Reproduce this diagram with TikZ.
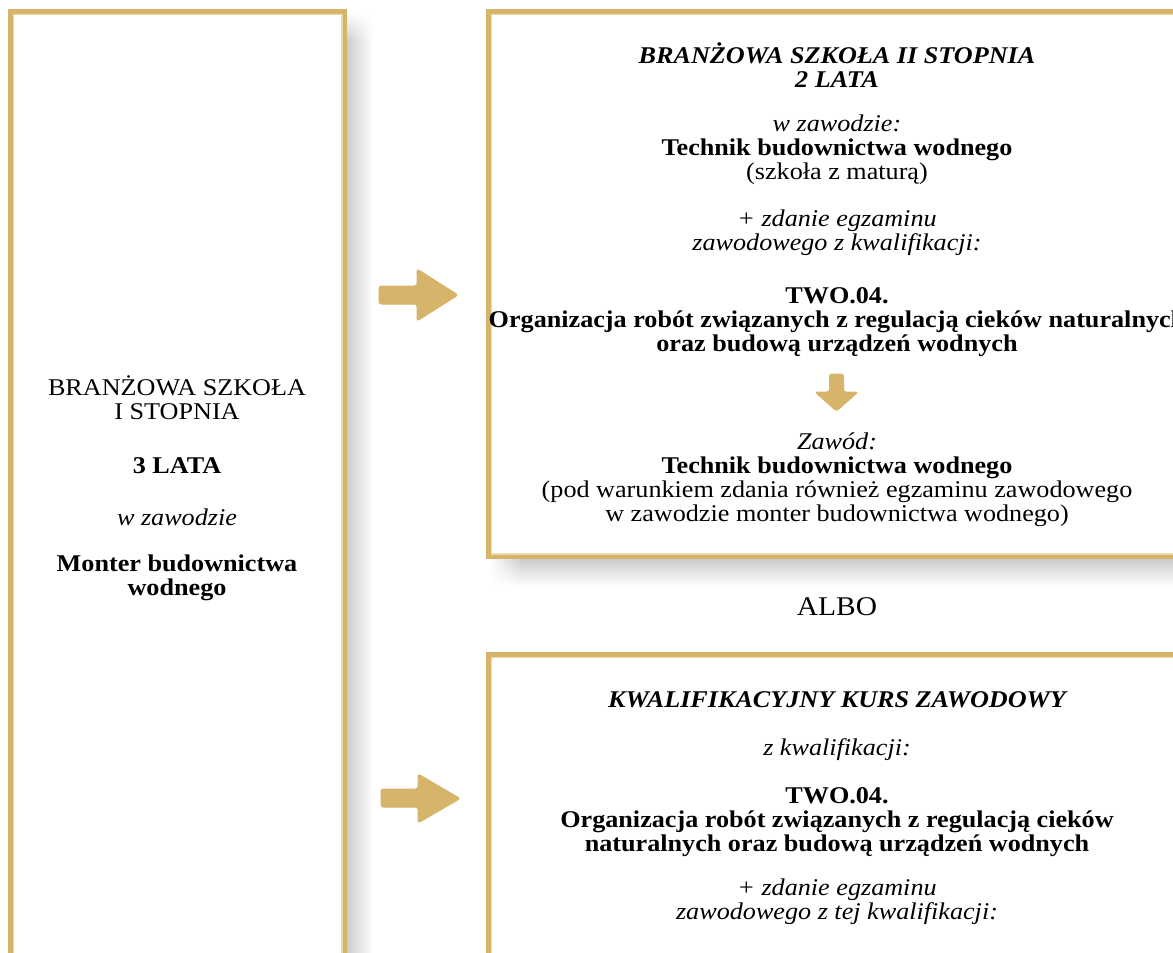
\documentclass[tikz,border=0pt]{standalone}
\usepackage{fontspec}
\setmainfont[FakeStretch=1.09]{Liberation Serif}
\usetikzlibrary{fadings}
\definecolor{gold}{RGB}{214,180,106}
\definecolor{goldlight}{RGB}{236,218,172}
\begin{document}
\begin{tikzpicture}[x=1pt,y=-1pt,
  txt/.style={align=center, inner sep=0pt, font=\fontsize{24}{24}\selectfont},
  border/.style={gold, line width=4.5pt},
  inner border/.style={goldlight, line width=1.4pt},
  goldarrow/.style={fill=gold, draw=gold, line width=1pt, rounded corners=2.5pt}]
\useasboundingbox (0,0) rectangle (1173,953);
\fill[white] (0,0) rectangle (1173,953);

% shadows
\shade[left color=black!20, right color=white] (347,14) rectangle (373,953);
\fill[white, path fading=south] (346,12) rectangle (374,42);
\shade[top color=black!20, bottom color=white] (490,559) rectangle (1173,586);
\fill[white, path fading=east] (489,558) rectangle (522,587);

% boxes
\draw[border] (10.25,11.25) rectangle (344.75,990);
\draw[inner border] (13.2,14.2) rectangle (341.8,990);
\draw[border] (488.25,11.25) rectangle (1200,556.75);
\draw[inner border] (491.2,14.2) rectangle (1200,553.8);
\draw[border] (488.25,654.25) rectangle (1200,990);
\draw[inner border] (491.2,657.2) rectangle (1200,990);

% left box text
\node[txt] (l1) at (177,398) {BRANŻOWA SZKOŁA\\I STOPNIA};
\node[txt, font=\fontsize{24}{24}\selectfont\bfseries] (l2) at (177,466) {3 LATA};
\node[txt, font=\fontsize{24}{24}\selectfont\itshape] (l3) at (177,517) {w zawodzie};
\node[txt, font=\fontsize{24}{24}\selectfont\bfseries] (l4) at (177,578) {Monter budownictwa\\wodnego};

% top right box text
\node[txt, font=\fontsize{24}{24}\selectfont\bfseries\itshape] (t1) at (837,65) {BRANŻOWA SZKOŁA II STOPNIA\\2 LATA};
\node[txt] (t2) at (837,150) {\textit{w zawodzie:}\\\textbf{Technik budownictwa wodnego}\\(szkoła z maturą)};
\node[txt, font=\fontsize{24}{24}\selectfont\itshape] (t3) at (837,233) {+ zdanie egzaminu\\zawodowego z kwalifikacji:};
\node[txt, font=\fontsize{24}{24}\selectfont\bfseries] (t4) at (837,322) {TWO.04.\\Organizacja robót związanych z regulacją cieków naturalnych\\oraz budową urządzeń wodnych};
\node[txt] (t5) at (837,480) {\textit{Zawód:}\\\textbf{Technik budownictwa wodnego}\\(pod warunkiem zdania również egzaminu zawodowego\\w zawodzie monter budownictwa wodnego)};

% ALBO
\node[txt, font=\fontsize{27}{28}\selectfont] (albo) at (837,607) {ALBO};

% bottom right box text
\node[txt, font=\fontsize{24}{24}\selectfont\bfseries\itshape] (b1) at (837,700) {KWALIFIKACYJNY KURS ZAWODOWY};
\node[txt, font=\fontsize{24}{24}\selectfont\itshape] (b2) at (837,750) {z kwalifikacji:};
\node[txt, font=\fontsize{24}{24}\selectfont\bfseries] (b3) at (837,822) {TWO.04.\\Organizacja robót związanych z regulacją cieków\\naturalnych oraz budową urządzeń wodnych};
\node[txt, font=\fontsize{24}{24}\selectfont\itshape] (b4) at (837,902) {+ zdanie egzaminu\\zawodowego z tej kwalifikacji:};

% arrows
\draw[goldarrow] (379,286) -- (417,286) -- (417,269) -- (458,295) -- (417,321) -- (417,304) -- (379,304) -- cycle;
\draw[goldarrow] (381,789) -- (418,789) -- (418,774) -- (460,798.5) -- (418,823) -- (418,807) -- (381,807) -- cycle;
\draw[goldarrow] (829.5,374) -- (843.5,374) -- (843.5,392) -- (858,392) -- (836.5,411) -- (815,392) -- (829.5,392) -- cycle;
\end{tikzpicture}
\end{document}
